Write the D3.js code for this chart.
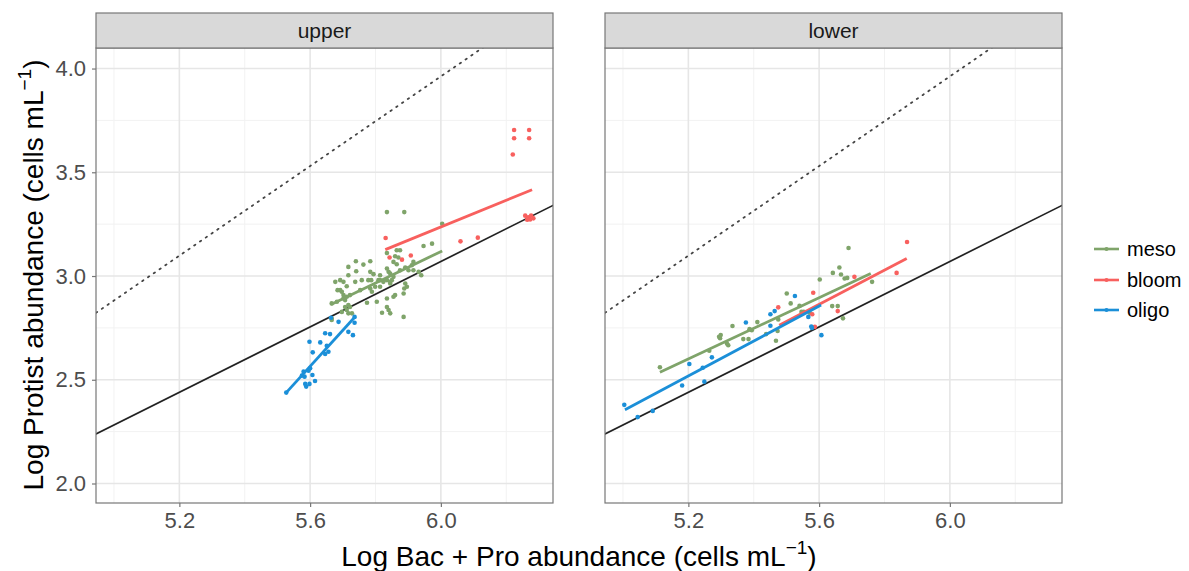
<!DOCTYPE html>
<html lang="en">
<head>
  <meta charset="UTF-8" />
  <title>Protist vs Bac + Pro abundance</title>
  <script src="https://d3js.org/d3.v7.min.js"></script>
  <style>
    body { margin: 0; background: #fff; font-family: "Liberation Sans", Arial, sans-serif; }
    svg { display: block; }
  </style>
</head>
<body>
  <svg id="chart" width="1189" height="571"></svg>

  <script>
    // ---------- DATA ----------
    const groups = ["meso", "bloom", "oligo"];
    const groupColors = ["#7fa46a", "#f8605e", "#1b8fd8"];
    const panels = ["upper", "lower"];
    const xTicks = [5.2, 5.6, 6.0];
    const yTicks = [2.0, 2.5, 3.0, 3.5, 4.0];

    // points: [log bac+pro, log protist]
    const upperMeso = [
      [5.835,3.308],[5.888,3.308],[6.004,3.252],[5.947,3.145],[5.973,3.156],[5.865,3.124],[5.875,3.124],
      [5.835,3.111],[5.860,3.095],[5.870,3.089],[5.740,3.071],[5.763,3.055],[5.784,3.071],[5.855,3.068],
      [5.865,3.057],[5.916,3.068],[5.911,3.052],[5.835,3.036],[5.840,3.020],[5.845,3.012],[5.717,3.044],
      [5.741,3.023],[5.784,3.020],[5.794,3.009],[5.717,3.004],[5.692,2.980],[5.814,3.004],[5.809,2.980],
      [5.875,3.028],[5.891,3.041],[5.901,3.028],[5.916,3.028],[5.932,3.020],[5.940,3.004],[5.677,2.972],
      [5.702,2.972],[5.712,2.951],[5.738,2.972],[5.758,2.980],[5.778,2.980],[5.787,2.980],[5.814,2.980],
      [5.824,2.972],[5.835,2.980],[5.845,2.972],[5.855,2.996],[5.850,2.980],[5.845,2.964],[5.799,2.948],
      [5.814,2.948],[5.753,2.932],[5.891,2.964],[5.888,2.940],[5.896,2.948],[5.684,2.932],[5.692,2.932],
      [5.697,2.924],[5.702,2.908],[5.712,2.900],[5.702,2.892],[5.722,2.908],[5.784,2.940],[5.789,2.924],
      [5.835,2.892],[5.855,2.900],[5.860,2.908],[5.886,2.916],[5.804,2.876],[5.774,2.871],[5.666,2.868],
      [5.682,2.876],[5.707,2.884],[5.717,2.860],[5.722,2.851],[5.835,2.851],[5.840,2.836],[5.820,2.823],
      [5.845,2.820],[5.886,2.803],[5.697,2.827],[5.717,2.820],[5.728,2.820],[5.666,2.788],[5.666,2.796],
      [5.707,2.851],[5.712,2.836]
    ];
    const upperBloom = [
      [5.831,3.183],[5.843,3.089],[5.881,3.079],[5.908,3.099],[6.060,3.167],[6.113,3.185],[6.224,3.704],
      [6.270,3.704],[6.224,3.664],[6.270,3.664],[6.220,3.586],[6.258,3.291],[6.267,3.283],[6.276,3.292],
      [6.273,3.273],[6.283,3.278],[6.264,3.271]
    ];
    const upperOligo = [
      [5.527,2.438],[5.664,2.799],[5.687,2.779],[5.736,2.803],[5.736,2.775],[5.717,2.731],[5.731,2.715],
      [5.646,2.724],[5.661,2.720],[5.598,2.683],[5.631,2.680],[5.651,2.664],[5.646,2.624],[5.656,2.635],
      [5.608,2.632],[5.580,2.539],[5.595,2.544],[5.575,2.520],[5.583,2.515],[5.615,2.494],[5.585,2.480],
      [5.598,2.480],[5.588,2.467],[5.600,2.555],[5.607,2.523]
    ];
    const lowerMeso = [
      [5.113,2.560],[5.264,2.640],[5.297,2.700],[5.299,2.716],[5.294,2.707],[5.318,2.675],[5.322,2.666],
      [5.335,2.759],[5.368,2.696],[5.384,2.696],[5.387,2.744],[5.394,2.739],[5.411,2.778],[5.438,2.720],
      [5.468,2.688],[5.473,2.735],[5.475,2.791],[5.501,2.916],[5.513,2.868],[5.540,2.856],[5.546,2.827],
      [5.553,2.827],[5.571,2.823],[5.602,2.983],[5.640,2.855],[5.657,2.855],[5.642,3.015],[5.662,3.041],
      [5.667,3.007],[5.678,2.988],[5.686,2.991],[5.690,3.135],[5.673,2.796],[5.762,2.972]
    ];
    const lowerBloom = [
      [5.475,2.849],[5.582,2.919],[5.579,2.816],[5.587,2.755],[5.657,2.831],[5.708,2.996],[5.837,3.015],
      [5.869,3.164]
    ];
    const lowerOligo = [
      [5.004,2.379],[5.045,2.320],[5.091,2.350],[5.181,2.472],[5.203,2.576],[5.249,2.491],[5.244,2.558],
      [5.272,2.608],[5.376,2.776],[5.451,2.816],[5.464,2.831],[5.451,2.760],[5.526,2.904],[5.567,2.803],
      [5.576,2.757],[5.578,2.750],[5.607,2.715]
    ];

    // fitted lines per group: [[x0,y0],[x1,y1]]
    const upperFits = [
      [[5.664,2.863],[6.004,3.121]],
      [[5.830,3.127],[6.279,3.416]],
      [[5.527,2.438],[5.739,2.806]]
    ];
    const lowerFits = [
      [[5.113,2.536],[5.758,3.012]],
      [[5.478,2.763],[5.868,3.084]],
      [[5.006,2.355],[5.606,2.860]]
    ];

    // reference lines: y = intercept + slope * x
    const refSlopes = [0.788, 1.08];
    const refIntercepts = [-1.658, -2.518];
    const refDash = [null, "1.5,5.5"];

    const panelPoints = [[upperMeso, upperBloom, upperOligo], [lowerMeso, lowerBloom, lowerOligo]];
    const panelFits = [upperFits, lowerFits];

    // ---------- LAYOUT ----------
    const svg = d3.select("#chart");
    const panelW = 457, panelTop = 48, panelBottom = 503, stripTop = 13;
    const panelLefts = [96, 605];
    const xDomain = [4.945, 6.343], yDomain = [1.906, 4.099];

    const y = d3.scaleLinear().domain(yDomain).range([panelBottom, panelTop]);

    panels.forEach((name, pi) => {
      const left = panelLefts[pi];
      const x = d3.scaleLinear().domain(xDomain).range([left, left + panelW]);
      const g = svg.append("g");

      g.append("clipPath").attr("id", "clip" + pi)
        .append("rect").attr("x", left).attr("y", panelTop).attr("width", panelW).attr("height", panelBottom - panelTop);

      // grid: minor then major
      const xMinor = [5.0, 5.4, 5.8, 6.2], yMinor = [2.25, 2.75, 3.25, 3.75];
      g.selectAll(".xminor").data(xMinor).join("line")
        .attr("x1", d => x(d)).attr("x2", d => x(d)).attr("y1", panelTop).attr("y2", panelBottom)
        .attr("stroke", "#f2f2f2").attr("stroke-width", 1);
      g.selectAll(".yminor").data(yMinor).join("line")
        .attr("y1", d => y(d)).attr("y2", d => y(d)).attr("x1", left).attr("x2", left + panelW)
        .attr("stroke", "#f2f2f2").attr("stroke-width", 1);
      g.selectAll(".xmajor").data(xTicks).join("line")
        .attr("x1", d => x(d)).attr("x2", d => x(d)).attr("y1", panelTop).attr("y2", panelBottom)
        .attr("stroke", "#e6e6e6").attr("stroke-width", 1.6);
      g.selectAll(".ymajor").data(yTicks).join("line")
        .attr("y1", d => y(d)).attr("y2", d => y(d)).attr("x1", left).attr("x2", left + panelW)
        .attr("stroke", "#e6e6e6").attr("stroke-width", 1.6);

      const plot = g.append("g").attr("clip-path", `url(#clip${pi})`);

      // reference lines
      refSlopes.forEach((s, i) => {
        plot.append("line")
          .attr("x1", x(xDomain[0])).attr("y1", y(refIntercepts[i] + s * xDomain[0]))
          .attr("x2", x(xDomain[1])).attr("y2", y(refIntercepts[i] + s * xDomain[1]))
          .attr("stroke", refDash[i] ? "#444" : "#222").attr("stroke-width", refDash[i] ? 1.8 : 1.7)
          .attr("stroke-dasharray", refDash[i])
          .attr("stroke-linecap", "round");
      });

      // points
      panelPoints[pi].forEach((pts, gi) => {
        plot.append("g").selectAll("circle").data(pts).join("circle")
          .attr("cx", d => x(d[0])).attr("cy", d => y(d[1])).attr("r", 2.3)
          .attr("fill", groupColors[gi]);
      });

      // fitted lines
      panelFits[pi].forEach((seg, gi) => {
        plot.append("path")
          .attr("d", d3.line().x(d => x(d[0])).y(d => y(d[1]))(seg))
          .attr("fill", "none").attr("stroke", groupColors[gi]).attr("stroke-width", 2.8);
      });

      // border
      g.append("rect").attr("x", left).attr("y", panelTop).attr("width", panelW).attr("height", panelBottom - panelTop)
        .attr("fill", "none").attr("stroke", "#777").attr("stroke-width", 1.2);

      // strip
      g.append("rect").attr("x", left).attr("y", stripTop).attr("width", panelW).attr("height", panelTop - stripTop)
        .attr("fill", "#d9d9d9").attr("stroke", "#777").attr("stroke-width", 1.2);
      g.append("text").attr("x", left + panelW / 2).attr("y", (stripTop + panelTop) / 2 + 7)
        .attr("text-anchor", "middle").attr("font-size", 21).attr("fill", "#1a1a1a").text(name);

      // x axis
      const xAxis = g.append("g").attr("transform", `translate(0,${panelBottom})`)
        .call(d3.axisBottom(x).tickValues(xTicks).tickFormat(d3.format(".1f")).tickSizeInner(4).tickSizeOuter(0));
      xAxis.select(".domain").remove();
      xAxis.selectAll("line").attr("stroke", "#777").attr("stroke-width", 1.2);
      xAxis.selectAll("text").attr("font-size", 22).attr("fill", "#4d4d4d")
        .attr("font-family", "Liberation Sans, Arial, sans-serif").attr("dy", "0.71em").attr("y", 9);

      if (pi === 0) {
        const yAxis = g.append("g").attr("transform", `translate(${left},0)`)
          .call(d3.axisLeft(y).tickValues(yTicks).tickFormat(d3.format(".1f")).tickSizeInner(4).tickSizeOuter(0));
        yAxis.select(".domain").remove();
        yAxis.selectAll("line").attr("stroke", "#777").attr("stroke-width", 1.2);
        yAxis.selectAll("text").attr("font-size", 22).attr("fill", "#4d4d4d")
          .attr("font-family", "Liberation Sans, Arial, sans-serif").attr("x", -10);
      }
    });

    // axis titles
    const xTitle = svg.append("text").attr("x", 579).attr("y", 566).attr("text-anchor", "middle")
      .attr("font-size", 28).attr("fill", "#000");
    xTitle.append("tspan").text("Log Bac + Pro abundance (cells mL");
    xTitle.append("tspan").attr("font-size", 19).attr("dy", -12).text("\u22121");
    xTitle.append("tspan").attr("dy", 12).text(")");

    const yTitle = svg.append("text").attr("transform", "translate(43,275) rotate(-90)")
      .attr("text-anchor", "middle").attr("font-size", 28).attr("fill", "#000");
    yTitle.append("tspan").text("Log Protist abundance (cells mL");
    yTitle.append("tspan").attr("font-size", 19).attr("dy", -12).text("\u22121");
    yTitle.append("tspan").attr("dy", 12).text(")");

    // legend
    const legendY = [249, 280, 310];
    const legend = svg.append("g");
    groups.forEach((gname, i) => {
      legend.append("line").attr("x1", 1094).attr("x2", 1119).attr("y1", legendY[i]).attr("y2", legendY[i])
        .attr("stroke", groupColors[i]).attr("stroke-width", 2.6);
      legend.append("circle").attr("cx", 1106.5).attr("cy", legendY[i]).attr("r", 2.1).attr("fill", groupColors[i]);
      legend.append("text").attr("x", 1127).attr("y", legendY[i] + 7).attr("font-size", 20)
        .attr("fill", "#000").text(gname);
    });
  </script>
</body>
</html>
